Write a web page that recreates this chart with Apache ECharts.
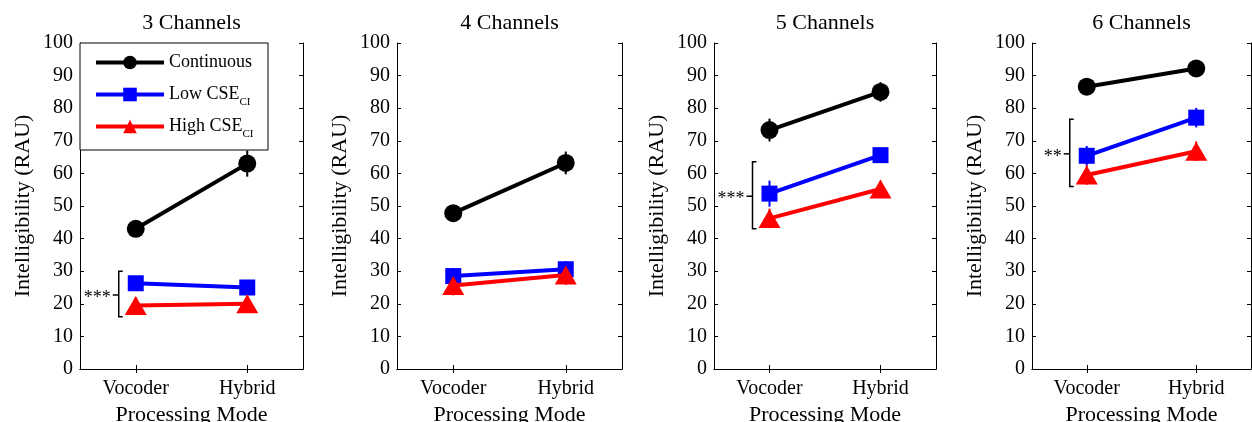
<!DOCTYPE html>
<html><head><meta charset="utf-8">
<script src="https://cdn.jsdelivr.net/npm/echarts@6/dist/echarts.min.js"></script>
<style>html,body{margin:0;padding:0;background:#fff}#c{width:1252px;height:422px}</style>
</head><body><div id="c"></div>
<script>
// ---------- data ----------
const categories = ['Vocoder', 'Hybrid'];
const panelTitles = ['3 Channels', '4 Channels', '5 Channels', '6 Channels'];
const seriesNames = ['Continuous', 'Low CSE', 'High CSE'];
const continuous = [[43.0, 63.0], [47.8, 63.2], [73.3, 85.0], [86.6, 92.2]];
const lowCSE     = [[26.3, 25.0], [28.5, 30.6], [53.8, 65.6], [65.4, 77.1]];
const highCSE    = [[19.5, 20.0], [25.6, 28.8], [46.2, 55.2], [59.5, 66.8]];
const continuousErr = [[1.5, 4.0], [1.5, 3.5], [3.5, 3.0], [1.5, 2.0]];
const lowErr        = [[2.0, 2.0], [2.5, 2.5], [4.0, 2.0], [3.0, 3.0]];
const highErr       = [[2.5, 2.5], [3.0, 3.0], [3.0, 2.5], [3.0, 3.0]];
const bracketLow   = [16, null, 43, 56];
const bracketHigh  = [30, null, 63.6, 76.6];
const bracketMid   = [22.7, null, 53, 66];
const bracketStars = ['***', '', '***', '**'];
const yMin = 0, yMax = 100, yStep = 10;
const yAxisTitle = 'Intelligibility (RAU)';
const xAxisTitle = 'Processing Mode';

// ---------- style / layout ----------
const FONT = 'Liberation Serif';
const colors = ['#000000', '#0000ff', '#ff0000'];
const symbols = ['circle', 'rect', 'triangle'];
const symbolSizes = [18, 16, [22, 19]];
const gridLefts = [80, 397, 714, 1032];
const gridWidths = [223, 225, 222, 219];
const gridTop = 43, gridHeight = 326;
const legendTops = [53.5, 81, 113];

const values = [continuous, lowCSE, highCSE];
const errs = [continuousErr, lowErr, highErr];

const grid = [], xAxis = [], yAxis = [], series = [], title = [];
const axisLineStyle = { color: '#000', width: 1 };

for (let i = 0; i < 4; i++) {
  grid.push({ left: gridLefts[i], top: gridTop, width: gridWidths[i], height: gridHeight,
              containLabel: false, outerBoundsMode: 'none' });
  title.push({
    text: panelTitles[i], left: gridLefts[i] + gridWidths[i] / 2, top: 12, textAlign: 'center', padding: 0,
    textStyle: { fontFamily: FONT, fontSize: 22, fontWeight: 'normal', color: '#000' }
  });
  // bottom x
  xAxis.push({
    type: 'category', gridIndex: i, data: categories, position: 'bottom',
    axisLine: { show: true, lineStyle: axisLineStyle },
    axisTick: { show: true, inside: true, alignWithLabel: true, length: 4, lineStyle: axisLineStyle },
    axisLabel: { fontFamily: FONT, fontSize: 20, color: '#000', margin: 10 },
    name: xAxisTitle, nameLocation: 'middle', nameGap: 31,
    nameTextStyle: { fontFamily: FONT, fontSize: 22, color: '#000' },
    splitLine: { show: false }
  });
  // top x
  xAxis.push({
    type: 'category', gridIndex: i, data: categories, position: 'top',
    axisLine: { show: true, lineStyle: axisLineStyle },
    axisTick: { show: true, inside: true, alignWithLabel: true, length: 4, lineStyle: axisLineStyle },
    axisLabel: { show: false }, splitLine: { show: false }
  });
  // left y
  yAxis.push({
    type: 'value', gridIndex: i, min: yMin, max: yMax, interval: yStep, position: 'left',
    axisLine: { show: true, lineStyle: axisLineStyle },
    axisTick: { show: true, inside: true, length: 4, lineStyle: axisLineStyle },
    axisLabel: { fontFamily: FONT, fontSize: 20, color: '#000', margin: 7 },
    splitLine: { show: false },
    name: yAxisTitle, nameLocation: 'middle', nameGap: 46,
    nameTextStyle: { fontFamily: FONT, fontSize: 22, color: '#000' }
  });
  // right y
  yAxis.push({
    type: 'value', gridIndex: i, min: yMin, max: yMax, interval: yStep, position: 'right',
    axisLine: { show: true, lineStyle: axisLineStyle },
    axisTick: { show: true, inside: true, length: 4, lineStyle: axisLineStyle },
    axisLabel: { show: false }, splitLine: { show: false }
  });

  // error bars
  const errData = [];
  for (let s = 0; s < 3; s++) {
    for (let c = 0; c < 2; c++) errData.push([c, values[s][i][c], errs[s][i][c], s]);
  }
  series.push({
    type: 'custom', name: 'err' + i, xAxisIndex: 2 * i, yAxisIndex: 2 * i, z: 1, silent: true,
    data: errData,
    renderItem: function (params, api) {
      const c = api.value(0), v = api.value(1), e = api.value(2), s = api.value(3);
      const p1 = api.coord([c, v - e]), p2 = api.coord([c, v + e]);
      return { type: 'line', shape: { x1: p1[0], y1: p1[1], x2: p2[0], y2: p2[1] },
               style: { stroke: colors[s], lineWidth: 2 } };
    }
  });

  for (let s = 0; s < 3; s++) {
    series.push({
      type: 'line', name: seriesNames[s], xAxisIndex: 2 * i, yAxisIndex: 2 * i,
      data: values[s][i], symbol: symbols[s], symbolSize: symbolSizes[s],
      lineStyle: { color: colors[s], width: 4 },
      itemStyle: { color: colors[s], borderWidth: 0 },
      z: 2 + s * 0.1, silent: true
    });
  }

  if (bracketLow[i] !== null) {
    const stars = bracketStars[i];
    series.push({
      type: 'custom', name: 'bracket' + i, xAxisIndex: 2 * i, yAxisIndex: 2 * i, z: 3, silent: true,
      data: [[0, bracketLow[i], bracketHigh[i], bracketMid[i]]],
      renderItem: function (params, api) {
        const lo = api.coord([api.value(0), api.value(1)]);
        const hi = api.coord([api.value(0), api.value(2)]);
        const mid = api.coord([api.value(0), api.value(3)]);
        const x = lo[0] - 17;
        return { type: 'group', children: [
          { type: 'polyline', shape: { points: [[x + 4, hi[1]], [x, hi[1]], [x, lo[1]], [x + 4, lo[1]]] },
            style: { stroke: '#000', lineWidth: 1.5, fill: null } },
          { type: 'line', shape: { x1: x - 6, y1: mid[1], x2: x, y2: mid[1] },
            style: { stroke: '#000', lineWidth: 1.5 } },
          { type: 'text', style: { text: stars, x: x - 8, y: mid[1] + 3, align: 'right', verticalAlign: 'middle',
            fontFamily: FONT, fontSize: 18, fill: '#000' } }
        ] };
      }
    });
  }
}

const legend = seriesNames.map(function (name, k) {
  return {
    orient: 'vertical', left: 94, top: legendTops[k], padding: 0,
    itemWidth: 68, itemHeight: 17, selectedMode: false, z: 6,
    lineStyle: { width: 4 },
    data: [name],
    formatter: function (n) { return k === 0 ? '{n|' + n + '}' : '{n|' + n + '}{s|CI}'; },
    textStyle: {
      fontFamily: FONT, fontSize: 18, color: '#000',
      rich: {
        n: { fontFamily: FONT, fontSize: 18, color: '#000', lineHeight: 28, verticalAlign: 'middle' },
        s: { fontFamily: FONT, fontSize: 11, color: '#000', lineHeight: 12, padding: [16, 0, 0, 0], verticalAlign: 'middle' }
      }
    }
  };
});

const option = {
  animation: false,
  backgroundColor: '#fff',
  title: title,
  grid: grid, xAxis: xAxis, yAxis: yAxis, series: series,
  legend: legend,
  graphic: { elements: [
    { type: 'rect', z: 5, shape: { x: 80, y: 43, width: 188, height: 107 },
      style: { fill: '#fff', stroke: '#000', lineWidth: 1 } }
  ] }
};
const chart = echarts.init(document.getElementById('c'), null, { renderer: 'canvas' });
chart.setOption(option);
</script></body></html>
